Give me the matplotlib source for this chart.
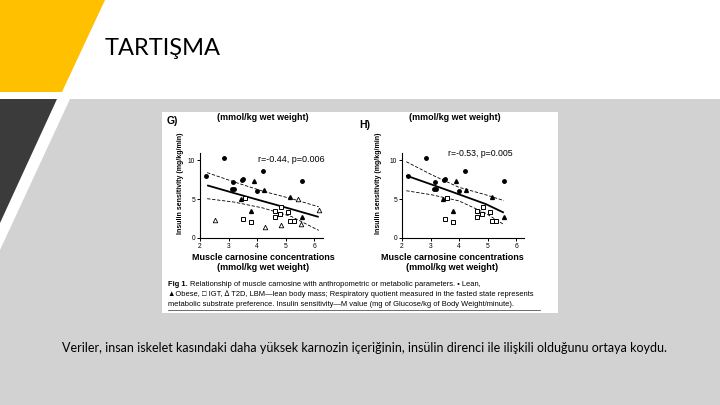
import matplotlib
matplotlib.use("Agg")
import matplotlib.pyplot as plt
from matplotlib.patches import Polygon, Rectangle

# ---------------- data ----------------
lean_x = [2.20, 2.84, 3.17, 3.13, 3.20, 3.47, 3.50, 4.00, 4.22, 5.55]
lean_y = [7.95, 10.2, 7.15, 6.25, 6.30, 7.50, 7.60, 6.07, 8.55, 7.30]
obese_x = [3.89, 4.23, 3.42, 3.79, 5.13, 5.55]
obese_y = [7.35, 6.20, 5.00, 3.40, 5.22, 2.65]
igt_x = [3.59, 3.52, 3.79, 4.63, 4.63, 4.81, 4.82, 5.07, 5.14, 5.30]
igt_y = [5.13, 2.50, 2.07, 3.42, 2.71, 3.05, 4.02, 3.31, 2.15, 2.15]
t2d_x = [2.52, 4.27, 4.84, 5.42, 6.16, 5.54]
t2d_y = [2.30, 1.45, 1.70, 4.96, 3.63, 1.84]

# regression line and 95% band, panel G
g_fit_x = [2.25, 3.2, 4.2, 5.2, 6.15]
g_fit_y = [6.75, 5.75, 4.72, 3.70, 2.70]
g_up_y = [8.38, 7.18, 6.00, 5.04, 4.00]
g_lo_y = [5.04, 4.60, 3.85, 2.75, 0.98]
# panel H
h_fit_x = [2.15, 3.04, 3.99, 4.93, 5.56]
h_fit_y = [8.00, 6.85, 5.60, 4.35, 3.25]
h_up_y = [9.78, 8.10, 6.50, 5.54, 4.80]
h_lo_y = [6.06, 5.54, 4.76, 3.16, 1.73]

x_ticks = [2, 3, 4, 5, 6]
y_ticks = [0, 5, 10]
g_stat = "r=-0.44, p=0.006"
h_stat = "r=-0.53, p=0.005"

title = "TARTIŞMA"
body = ("Veriler, insan iskelet kasındaki daha yüksek karnozin içeriğinin, "
        "insülin direnci ile ilişkili olduğunu ortaya koydu.")
cap1 = "Relationship of muscle carnosine with anthropometric or metabolic parameters. • Lean,"
cap2 = ("▲Obese, □ IGT, ∆ T2D, LBM—lean body mass; Respiratory quotient measured in the "
        "fasted state represents")
cap3 = ("metabolic substrate preference. Insulin sensitivity—M value (mg of Glucose/kg "
        "of Body Weight/minute).")
ylab = "Insulin sensitivity (mg/kg/min)"
xlab1 = "Muscle carnosine concentrations"
unit = "(mmol/kg wet weight)"

W, H = 720, 405
fig = plt.figure(figsize=(7.2, 4.05), dpi=100)
fig.patch.set_facecolor("white")
bg = fig.add_axes([0, 0, 1, 1])
bg.set_xlim(0, W)
bg.set_ylim(H, 0)
bg.axis("off")

YEL = "#FFC000"
DARK = "#3B3B3B"
GREY = "#D2D2D2"
bg.add_patch(Polygon([(0, 0), (105, 0), (62, 92), (0, 92)], closed=True, fc=YEL, ec="none"))
bg.add_patch(Polygon([(70, 99), (W, 99), (W, H), (0, H), (0, 250)], closed=True, fc=GREY, ec="none"))
bg.add_patch(Polygon([(0, 99), (57, 99), (0, 223)], closed=True, fc=DARK, ec="none"))
bg.add_patch(Rectangle((162, 112), 396, 201, fc="white", ec="none"))

bg.text(105, 55, title, fontsize=17, family="Lato", color="black", ha="left", va="baseline")
bg.text(365, 348, body, fontsize=9.0, family="Lato", color="black", ha="center", va="center")

AF = ["Liberation Sans", "DejaVu Sans"]
# figure annotations
bg.text(167, 121, "G)", fontsize=7.5, family=AF, weight="bold", va="center", ha="left")
bg.text(263, 117, unit, fontsize=6.4, family=AF, weight="bold", va="center", ha="center")
bg.text(359, 125, "H)", fontsize=7.5, family=AF, weight="bold", va="center", ha="left")
bg.text(455, 117, unit, fontsize=6.4, family=AF, weight="bold", va="center", ha="center")
for cx, xc in [(180, 263), (379, 452)]:
    bg.text(cx, 183, ylab, fontsize=5.0, family=AF, weight="bold", rotation=90,
            va="center", ha="center")
    bg.text(xc, 257, xlab1, fontsize=6.5, family=AF, weight="bold", va="center", ha="center")
    bg.text(xc, 268, unit, fontsize=6.5, family=AF, weight="bold", va="center", ha="center")

CF = 5.45
bg.text(168, 284, "Fig 1.", fontsize=CF, family=AF, weight="bold", va="center", ha="left")
bg.text(190, 284, cap1, fontsize=CF, family=AF, va="center", ha="left")
bg.text(168, 294, cap2, fontsize=CF, family=AF, va="center", ha="left")
bg.text(168, 304, cap3, fontsize=CF, family=AF, va="center", ha="left")
bg.plot([168, 540], [310, 310], color="#555555", lw=0.6)


def panel(left_px, xmax, fx, fy, uy, ly, stat, stat_xy, stat_fs, with_t2d):
    ppu_x = 28.6
    ppu_y = 7.8
    ymax = 10.9
    ax = fig.add_axes([left_px / W, 1 - 238 / H, (xmax - 2) * ppu_x / W, ymax * ppu_y / H])
    ax.set_facecolor("none")
    ax.set_xlim(2, xmax)
    ax.set_ylim(0, ymax)
    for s in ["top", "right"]:
        ax.spines[s].set_visible(False)
    for s in ["left", "bottom"]:
        ax.spines[s].set_linewidth(0.8)
    ax.set_xticks(x_ticks)
    ax.set_yticks(y_ticks)
    ax.tick_params(length=2, width=0.7, labelsize=4.8, pad=1.5)
    for lab in ax.get_xticklabels() + ax.get_yticklabels():
        lab.set_family(AF)
    ax.plot(fx, fy, color="black", lw=1.3, solid_capstyle="butt")
    ax.plot(fx, uy, color="black", lw=0.6, dashes=(4, 2))
    ax.plot(fx, ly, color="black", lw=0.6, dashes=(4, 2))
    ax.plot(lean_x, lean_y, "o", ms=2.5, color="black", ls="none")
    ax.plot(obese_x, obese_y, "^", ms=2.8, color="black", ls="none")
    ax.plot(igt_x, igt_y, "s", ms=3.2, mfc="white", mec="black", mew=0.7, ls="none")
    if with_t2d:
        ax.plot(t2d_x, t2d_y, "^", ms=3.3, mfc="white", mec="black", mew=0.6, ls="none")
    bg.text(stat_xy[0], stat_xy[1], stat, fontsize=stat_fs, family=AF, va="center", ha="left")
    return ax


panel(200, 6.3, g_fit_x, g_fit_y, g_up_y, g_lo_y, g_stat, (258, 160), 6.5, True)
panel(402, 6.25, h_fit_x, h_fit_y, h_up_y, h_lo_y, h_stat, (448, 153), 6.3, False)

fig.savefig("out.png", dpi=100)
